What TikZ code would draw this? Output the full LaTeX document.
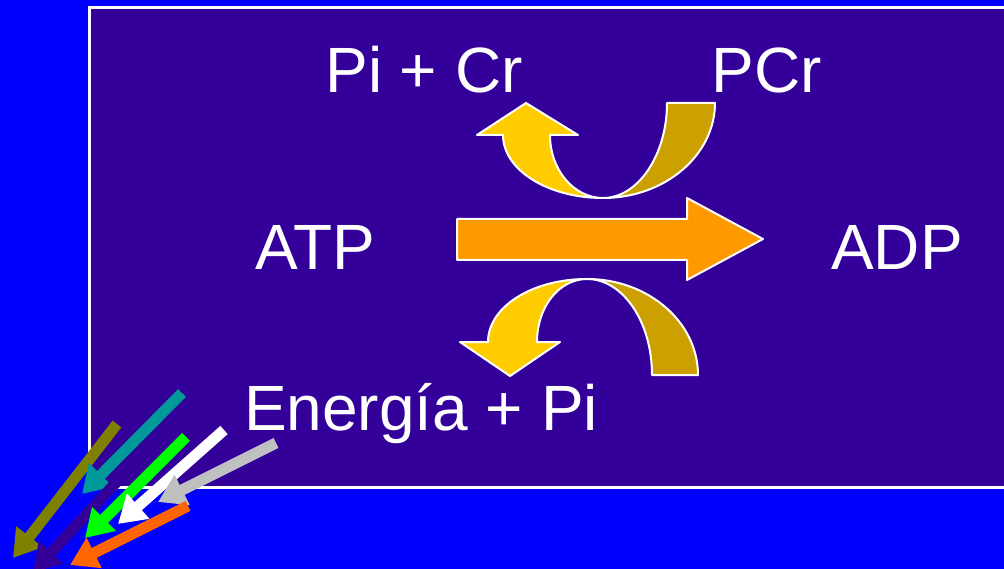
\documentclass[tikz,border=0pt]{standalone}
\usepackage{fontspec}
\setmainfont{Liberation Sans}
\usetikzlibrary{arrows.meta}
\definecolor{slideblue}{HTML}{0000FF}
\definecolor{panel}{HTML}{330099}
\definecolor{atpor}{HTML}{FF9900}
\definecolor{lightyel}{HTML}{FFCC00}
\definecolor{darkyel}{HTML}{CCA000}
\definecolor{olivearr}{HTML}{808000}
\definecolor{tealarr}{HTML}{009999}
\definecolor{greenarr}{HTML}{00FF00}
\definecolor{grayarr}{HTML}{C0C0C0}
\definecolor{orangearr}{HTML}{FF6600}
\begin{document}
\begin{tikzpicture}[
  x=1pt, y=-1pt,
  lbl/.style={text=white, inner sep=0pt, anchor=base,
    font=\fontsize{64}{72}\selectfont},
  band/.style={draw=white, line width=2pt, line join=round},
  pointer/.style={line width=11pt, -{Triangle[length=27pt,width=32pt]}}
]
\clip (0,0) rectangle (1004,569);
\fill[slideblue] (0,0) rectangle (1004,569);
\draw[white, line width=2.5pt, fill=panel] (89.5,7.5) rectangle (1010,487.5);

% labels
\node[lbl] (picr) at (424,93) {Pi + Cr};
\node[lbl] (pcr) at (767,93) {PCr};
\node[lbl] (atp) at (315,270) {ATP};
\node[lbl] (adp) at (897,270) {ADP};
\node[lbl] (energia) at (421,430) {Energía + Pi};

% main reaction arrow
\draw[band, fill=atpor] (457,219) -- (687,219) -- (687,198) -- (763,239)
  -- (687,280) -- (687,260) -- (457,260) -- cycle;

% upper coupled arrow (PCr -> Pi + Cr)
\draw[band, fill=darkyel] (715,103) .. controls (715,155) and (665,198) .. (603,198)
  .. controls (638,198) and (667,155) .. (667,103) -- cycle;
\draw[band, fill=lightyel] (603,198) .. controls (548,198) and (503,170) .. (503,135)
  -- (477,135) -- (526,103) -- (578,135) -- (550,135)
  .. controls (550,170) and (574,198) .. (603,198) -- cycle;

% lower coupled arrow (-> Energia + Pi)
\draw[band, fill=darkyel] (587,279) .. controls (648,279) and (698,322) .. (698,375)
  -- (652,375) .. controls (652,322) and (623,279) .. (587,279) -- cycle;
\draw[band, fill=lightyel] (587,279) .. controls (532,279) and (488,307) .. (488,342)
  -- (460,342) -- (510,376) -- (560,342) -- (537,342)
  .. controls (537,307) and (559,279) .. (587,279) -- cycle;

% pointers in the corner
\coordinate (olT) at (117,424);  \coordinate (olH) at (13,558);
\coordinate (teT) at (182,393);  \coordinate (teH) at (82,494);
\coordinate (puT) at (165,430);  \coordinate (puH) at (33,572);
\coordinate (grT) at (186,437);  \coordinate (grH) at (85,538);
\coordinate (whT) at (224,430);  \coordinate (whH) at (118,524);
\coordinate (gyT) at (276,443);  \coordinate (gyH) at (158,502);
\coordinate (orT) at (188,506);  \coordinate (orH) at (70,565);
\draw[pointer, olivearr] (olT) -- (olH);
\draw[pointer, tealarr] (teT) -- (teH);
\draw[pointer, panel] (puT) -- (puH);
\draw[pointer, greenarr] (grT) -- (grH);
\draw[pointer, white] (whT) -- (whH);
\draw[pointer, grayarr] (gyT) -- (gyH);
\draw[pointer, orangearr] (orT) -- (orH);
\end{tikzpicture}
\end{document}
